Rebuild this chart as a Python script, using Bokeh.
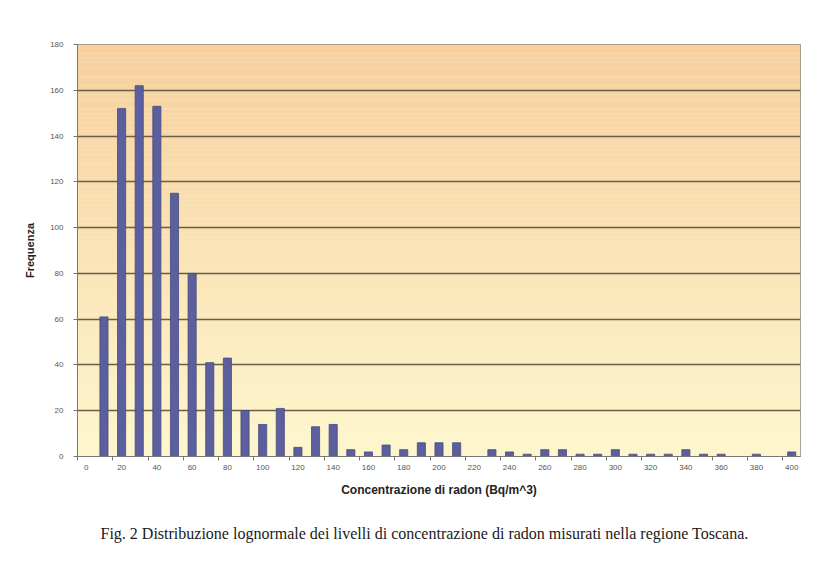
import numpy as np
from bokeh.plotting import figure
from bokeh.models import Range1d, FixedTicker, Title, ColumnDataSource
from bokeh.embed import file_html
from bokeh.resources import INLINE

# Data
concentrazione = [0, 10, 20, 30, 40, 50, 60, 70, 80, 90, 100, 110, 120, 130, 140, 150,
                  160, 170, 180, 190, 200, 210, 220, 230, 240, 250, 260, 270, 280, 290,
                  300, 310, 320, 330, 340, 350, 360, 370, 380, 390, 400]
frequenza = [0, 61, 152, 162, 153, 115, 80, 41, 43, 20, 14, 21, 4, 13, 14, 3,
             2, 5, 3, 6, 6, 6, 0, 3, 2, 1, 3, 3, 1, 1,
             3, 1, 1, 1, 3, 1, 1, 0, 1, 0, 2]
x_tick_values = list(range(0, 401, 20))
y_tick_values = list(range(0, 181, 20))

p = figure(width=806, height=566, output_backend="svg", toolbar_location=None,
           x_range=Range1d(-5, 405), y_range=Range1d(0, 180),
           min_border_left=77, min_border_top=44, min_border_right=6, min_border_bottom=110)
p.background_fill_color = "#FEF6CE"
p.border_fill_color = "white"
p.outline_line_color = "#8A8A8A"
p.outline_line_width = 1

# background gradient (peach at top -> pale yellow at bottom)
nb = 90
edges = np.linspace(0, 180, nb + 1)
bottom_rgb = np.array([254, 247, 206])
top_rgb = np.array([247, 208, 158])
cols = []
for i in range(nb):
    t = (i + 0.5) / nb
    c = (bottom_rgb * (1 - t) + top_rgb * t).astype(int)
    cols.append("#%02x%02x%02x" % tuple(c))
bg = p.quad(left=-5, right=405, bottom=edges[:-1], top=edges[1:], fill_color=cols,
            line_color=None)
bg.level = "image"

src = ColumnDataSource(dict(x=concentrazione, top=frequenza))
p.vbar(x="x", top="top", width=4.6, source=src, fill_color="#5C5F9E",
       line_color="#484A82", line_width=0.8)

# grid
p.xgrid.visible = False
p.ygrid.ticker = FixedTicker(ticks=y_tick_values)
p.ygrid.grid_line_color = "#6A5E48"
p.ygrid.grid_line_width = 1.3

# axes
xa = p.xaxis[0]
xa.ticker = FixedTicker(ticks=x_tick_values, minor_ticks=[v + 15 for v in range(-20, 400, 20)])
xa.major_tick_out = 0
xa.major_tick_in = 0
xa.minor_tick_out = 4
xa.minor_tick_in = 0
xa.minor_tick_line_color = "#777777"
xa.axis_line_color = "#777777"
xa.major_label_text_font = "Liberation Sans"
xa.major_label_text_font_size = "8px"
xa.major_label_text_color = "#555555"
xa.major_label_standoff = 4
xa.axis_label = "Concentrazione di radon (Bq/m^3)"
xa.axis_label_text_font = "Liberation Sans"
xa.axis_label_text_font_style = "bold"
xa.axis_label_text_font_size = "12px"
xa.axis_label_text_color = "#222222"
xa.axis_label_standoff = 10

ya = p.yaxis[0]
ya.ticker = FixedTicker(ticks=y_tick_values)
ya.major_tick_out = 4
ya.major_tick_in = 0
ya.minor_tick_out = 0
ya.minor_tick_in = 0
ya.major_tick_line_color = "#777777"
ya.axis_line_color = "#777777"
ya.major_label_text_font = "Liberation Sans"
ya.major_label_text_font_size = "8px"
ya.major_label_text_color = "#555555"
ya.major_label_standoff = 10
ya.axis_label = "Frequenza"
ya.axis_label_text_font = "Liberation Sans"
ya.axis_label_text_font_style = "bold"
ya.axis_label_text_font_size = "11px"
ya.axis_label_text_color = "#222222"
ya.axis_label_standoff = 11

caption = Title(text="Fig. 2 Distribuzione lognormale dei livelli di concentrazione di radon misurati nella regione Toscana.",
                align="left", offset=23, standoff=46,
                text_font="Liberation Serif", text_font_size="16px", text_font_style="normal",
                text_color="#1a1a1a")
p.add_layout(caption, "below")

open("out.html", "w").write(file_html(p, INLINE))
